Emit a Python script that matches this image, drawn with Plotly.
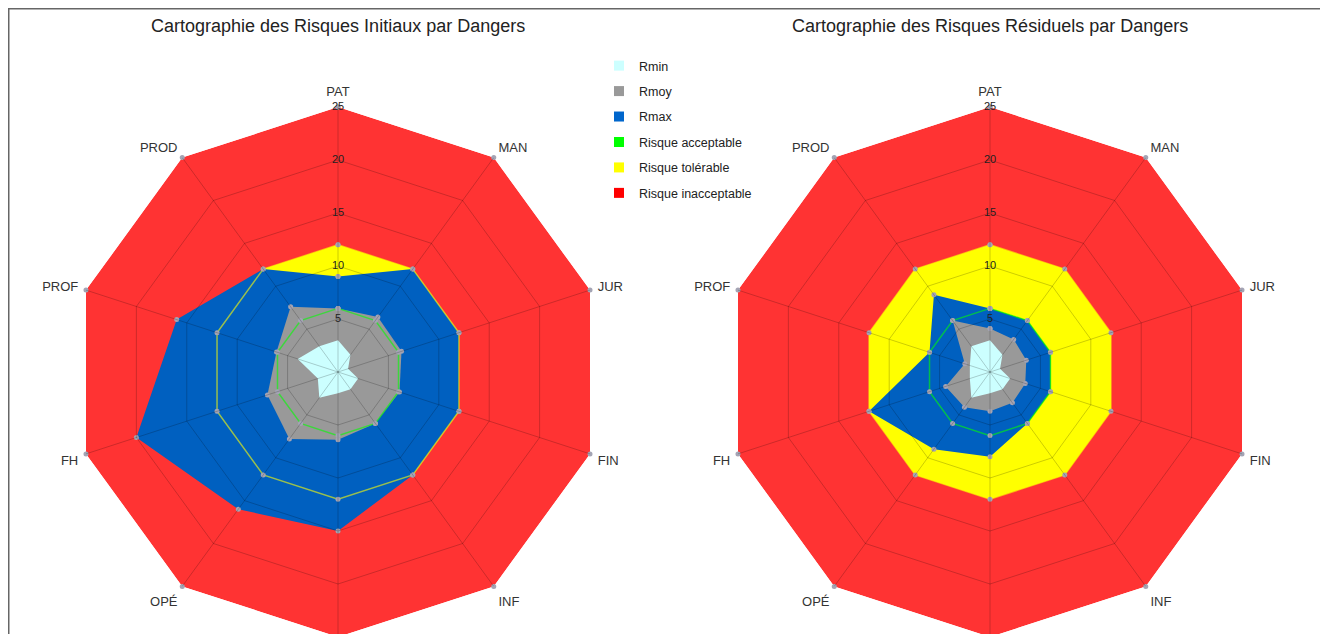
# Radar charts: initial vs residual risks per hazard
import plotly.graph_objects as go

# Data
categories = ["PAT", "MAN", "JUR", "FIN", "INF", "ENV", "OPÉ", "FH", "PROF", "PROD"]

init_rmin = [3, 2, 1, 2, 2, 2, 3, 2, 4, 3]
init_rmoy = [6.0, 6.4, 6.3, 6.1, 6.0, 6.4, 7.8, 7.0, 6.1, 7.6]
init_rmax = [9, 12, 12, 12, 12, 15, 16, 20, 16, 12]

res_rmin = [3, 2, 1, 2, 2, 2, 3, 2, 2, 3]
res_rmoy = [4.1, 3.8, 3.6, 3.5, 3.6, 3.7, 4.1, 4.4, 2.5, 6.0]
res_rmax = [6, 6, 6, 6, 6, 8, 9, 12, 6, 9]

seuil_acceptable = [6] * 10
seuil_tolerable = [12] * 10
seuil_inacceptable = [25] * 10

radial_ticks = [5, 10, 15, 20, 25]

titles = ["Cartographie des Risques Initiaux par Dangers",
          "Cartographie des Risques Résiduels par Dangers"]

legend_names = ["Rmin", "Rmoy", "Rmax", "Risque acceptable", "Risque tolérable", "Risque inacceptable"]
legend_colors = ["#ccffff", "#999999", "#0066cc", "#00ff00", "#ffff00", "#ff0000"]

FONT = "Liberation Sans"
DOT = dict(color="#a4a4b4", size=5)


def closed(values):
    return list(values) + [values[0]]


theta = closed(categories)


def fill_trace(values, color, subplot, markers=True):
    return go.Scatterpolar(
        r=closed(values), theta=theta, subplot=subplot,
        mode="lines+markers" if markers else "lines",
        fill="toself", fillcolor=color,
        line=dict(width=0, color=color),
        marker=DOT, showlegend=False, hoverinfo="skip",
    )


def line_trace(values, color, subplot):
    return go.Scatterpolar(
        r=closed(values), theta=theta, subplot=subplot,
        mode="lines+markers",
        line=dict(width=1.5, color=color),
        marker=DOT, showlegend=False, hoverinfo="skip",
    )


def grid_traces(subplot):
    ring_r, ring_t = [], []
    for t in radial_ticks[:-1]:
        ring_r += [t] * len(theta) + [None]
        ring_t += theta + [None]
    spoke_r, spoke_t = [], []
    for c in categories:
        spoke_r += [0, radial_ticks[-1], None]
        spoke_t += [c, c, None]
    grid = go.Scatterpolar(
        r=ring_r + spoke_r, theta=ring_t + spoke_t, subplot=subplot,
        mode="lines", line=dict(width=1, color="rgba(0,0,0,0.2)"),
        showlegend=False, hoverinfo="skip",
    )
    labels = go.Scatterpolar(
        r=radial_ticks, theta=[categories[0]] * len(radial_ticks), subplot=subplot,
        mode="text", text=[str(t) for t in radial_ticks],
        textfont=dict(family=FONT, size=11, color="#222"),
        showlegend=False, hoverinfo="skip",
    )
    return [grid, labels]


def radar(rmin, rmoy, rmax, subplot):
    return [
        fill_trace(seuil_inacceptable, "#ff3333", subplot),
        fill_trace(seuil_tolerable, "#ffff00", subplot, markers=False),
        fill_trace(seuil_acceptable, "#00ff00", subplot, markers=False),
        fill_trace(rmax, "#0060c0", subplot),
        fill_trace(rmoy, "#999999", subplot),
        line_trace(seuil_tolerable, "rgba(255,255,0,0.6)", subplot),
        line_trace(seuil_acceptable, "rgba(0,255,0,0.6)", subplot),
        fill_trace(rmin, "#ccffff", subplot, markers=False),
    ] + grid_traces(subplot)


# Legend-only entries
legend_traces = [
    go.Scatterpolar(
        r=[None], theta=[None], mode="markers", name=n, legendgroup=n,
        marker=dict(symbol="square", size=10, color=c), subplot="polar",
    )
    for n, c in zip(legend_names, legend_colors)
]

data = legend_traces + radar(init_rmin, init_rmoy, init_rmax, "polar") \
    + radar(res_rmin, res_rmoy, res_rmax, "polar2")

# page body adds an 8px offset, positions below are in figure pixels
W, H, TOP, BOT = 1328, 634, 99, 5
R = 265
centers = [330, 982]


def polar_layout(cx):
    return dict(
        domain=dict(x=[(cx - R) / W, (cx + R) / W], y=[0, 1]),
        bgcolor="white",
        gridshape="linear",
        angularaxis=dict(
            type="category", direction="clockwise", rotation=90,
            showgrid=False, showline=False,
            ticks="outside", ticklen=5, tickcolor="rgba(0,0,0,0)",
            categoryorder="array", categoryarray=categories,
            tickfont=dict(family=FONT, size=13, color="#333"),
        ),
        radialaxis=dict(range=[0, 25], showgrid=False, showline=False,
                        showticklabels=False, ticks=""),
    )


def py(y):
    return (H - BOT - y) / (H - TOP - BOT)


layout = go.Layout(
    width=W, height=H,
    margin=dict(l=0, r=0, t=TOP, b=BOT, autoexpand=False),
    paper_bgcolor="white",
    font=dict(family=FONT, color="#222"),
    polar=polar_layout(centers[0]),
    polar2=polar_layout(centers[1]),
    showlegend=True,
    legend=dict(
        x=591 / W, y=py(43),
        xanchor="left", yanchor="top", traceorder="grouped", tracegroupgap=6.2,
        font=dict(family=FONT, size=12.5, color="#222"), bgcolor="rgba(0,0,0,0)",
    ),
    annotations=[
        dict(text=t, x=cx / W, y=py(18), xref="paper", yref="paper",
             showarrow=False, xanchor="center", yanchor="middle",
             font=dict(family=FONT, size=18, color="#222"))
        for t, cx in zip(titles, centers)
    ],
    shapes=[
        dict(type="line", xref="paper", yref="paper", x0=0, x1=1, y0=py(0.75), y1=py(0.75),
             line=dict(color="#666", width=1.5)),
        dict(type="line", xref="paper", yref="paper", x0=0.75 / W, x1=0.75 / W, y0=py(H), y1=py(0.75),
             line=dict(color="#666", width=1.5)),
    ],
)

fig = go.Figure(data=data, layout=layout)

fig.write_html("out.html")
